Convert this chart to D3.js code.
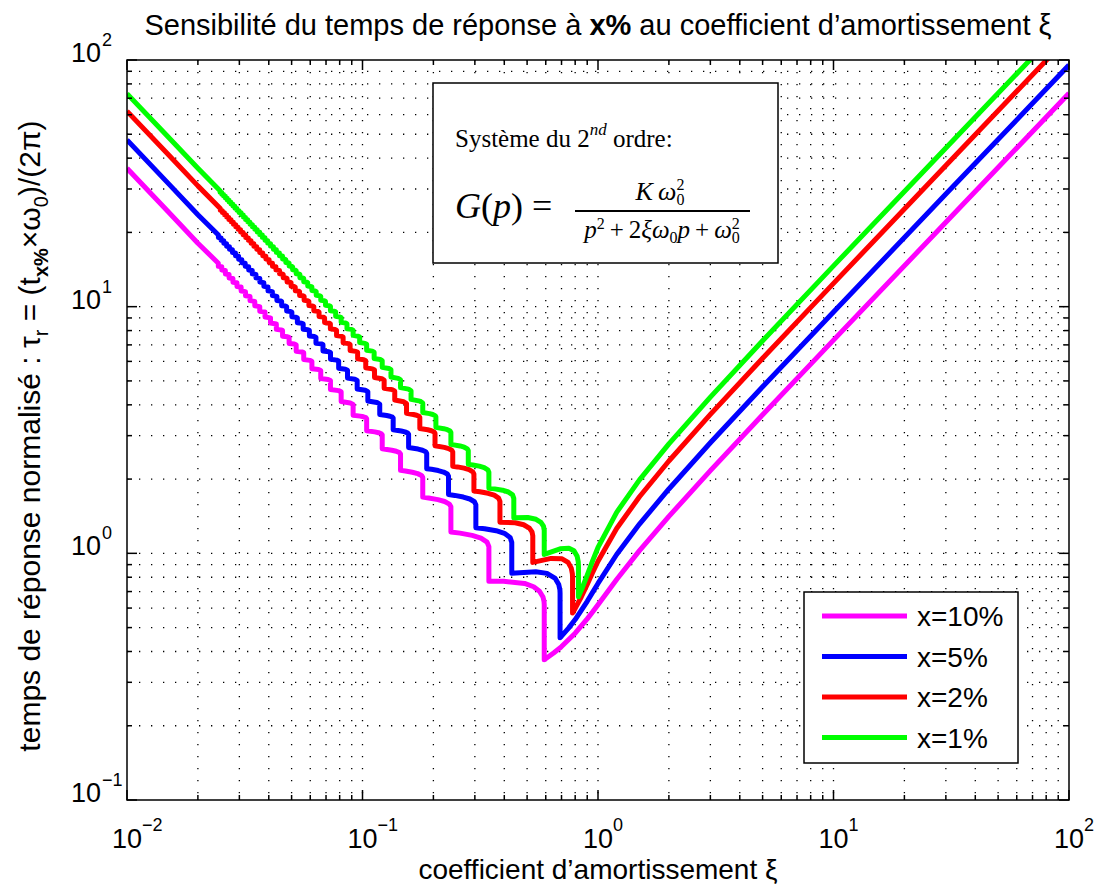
<!DOCTYPE html>
<html>
<head>
<meta charset="utf-8">
<script src="https://cdn.jsdelivr.net/npm/d3@7"></script>
<style>
  body { margin: 0; background: #fff; }
  text { font-family: "Liberation Sans", Arial, Helvetica, sans-serif; fill: #000; }
  .tex { font-family: "Liberation Serif", "DejaVu Serif", serif; }
</style>
</head>
<body>
<svg id="chart" width="1098" height="886"></svg>
<script>
// settling time tau_r vs damping xi, one array of [xi, tau] per tolerance
var xi10 = [[0.01,36.4],[0.015,24.18],[0.02,18.07],
  [0.024424,15.0045],[0.024424,14.566],[0.025266,14.5046],[0.025266,14.0672],[0.026167,14.0048],[0.026167,13.5685],
  [0.027136,13.505],[0.027136,13.0698],[0.028179,13.0052],[0.028179,12.5712],[0.029305,12.5054],[0.029305,12.0727],
  [0.030525,12.0056],[0.030525,11.5742],[0.031851,11.5058],[0.031851,11.0759],[0.033297,11.0061],[0.033297,10.5777],
  [0.034881,10.5064],[0.034881,10.0797],[0.036622,10.0067],[0.036622,9.5817],[0.038547,9.5071],[0.038547,9.0839],
  [0.040685,9.0075],[0.040685,8.5864],
  [0.04307,8.5079],[0.04307,8.0888],[0.04509,8.0487],[0.04576,8.0084],[0.04576,7.5917],[0.04804,7.5506],
  [0.0488,7.5089],[0.0488,7.095],[0.05141,7.0526],[0.05228,7.0096],[0.05228,6.5984],[0.05529,6.5547],
  [0.05629,6.5103],[0.05629,6.1022],[0.0598,6.0571],[0.06097,6.0112],[0.06097,5.6066],[0.0651,5.5599],
  [0.06648,5.5122],[0.06648,5.1118],[0.07145,5.0632],[0.0731,5.0134],[0.0731,4.6176],[0.07915,4.567],
  [0.08117,4.5149],[0.08117,4.124],[0.08873,4.0713],[0.09124,4.0168],[0.09124,3.6321],
  [0.0977,3.5999],[0.10092,3.5767],[0.10336,3.5477],[0.10414,3.5191],[0.10414,3.1417],
  [0.11272,3.1079],[0.11699,3.0835],[0.12023,3.0527],[0.12126,3.0223],[0.12126,2.6533],
  [0.13317,2.6179],[0.13911,2.5921],[0.14362,2.5593],[0.14504,2.5267],[0.14504,2.1692],
  [0.15212,2.1559],[0.16272,2.1318],[0.1715,2.1043],[0.17814,2.0689],[0.18024,2.0333],[0.18024,1.6899],
  [0.19082,1.6759],[0.20905,1.6512],[0.22326,1.6221],[0.23397,1.5837],[0.23733,1.5441],[0.23733,1.2206],
  [0.25953,1.2075],[0.29207,1.1829],[0.31844,1.1529],[0.338,1.1109],[0.34409,1.065],[0.34409,0.7703],
  [0.3977,0.7705],[0.4875,0.7549],[0.533,0.732],[0.5643,0.702],[0.584,0.665],[0.5899,0.639],
  [0.59115,0.6199],[0.59115,0.37],
  [0.65,0.3952],[0.7,0.4188],[0.8,0.4746],[0.9,0.5422],[0.95,0.5795],[1,0.6191],[1.2,0.7836],
  [1.5,1.0251],[2,1.4119],[3,2.1637],[5,3.6438],[10,7.319],[30,21.985],[100,73.29]];

var xi5 = [[0.01,47.43],[0.015,31.54],[0.02,23.59],
  [0.024443,19.5058],[0.024443,19.0674],[0.025086,19.006],[0.025086,18.5683],[0.025763,18.5061],[0.025763,18.0693],
  [0.026479,18.0063],[0.026479,17.5704],[0.027235,17.5065],[0.027235,17.0714],[0.028035,17.0067],[0.028035,16.5725],
  [0.028884,16.5069],[0.028884,16.0737],[0.029786,16.0071],[0.029786,15.5749],[0.030745,15.5073],[0.030745,15.0762],
  [0.03177,15.0076],[0.03177,14.5776],[0.032864,14.5078],[0.032864,14.079],[0.034036,14.0081],[0.034036,13.5805],
  [0.035295,13.5084],[0.035295,13.0821],[0.036651,13.0087],[0.036651,12.5838],[0.038115,12.5091],[0.038115,12.0856],
  [0.039701,12.0095],[0.039701,11.5875],[0.041424,11.5099],[0.041424,11.0895],
  [0.0433,11.0103],[0.0433,10.591],[0.04484,10.5512],[0.04536,10.5108],[0.04536,10.0933],[0.04706,10.0526],
  [0.04763,10.0114],[0.04763,9.5964],[0.0495,9.5545],[0.05013,9.512],[0.05013,9.0992],[0.05221,9.0562],
  [0.0529,9.0126],[0.0529,8.6019],[0.05523,8.558],[0.056,8.5134],[0.056,8.105],[0.05862,8.06],
  [0.05949,8.0142],[0.05949,7.6086],[0.06246,7.5623],[0.06344,7.5152],[0.06344,7.1125],[0.06682,7.0649],
  [0.06795,7.0162],[0.06795,6.617],[0.07185,6.5678],[0.07315,6.5175],[0.07315,6.1217],[0.07769,6.071],
  [0.07921,6.0189],[0.07921,5.6268],[0.08458,5.5746],[0.08637,5.5206],[0.08637,5.133],[0.0928,5.0788],
  [0.09493,5.0227],[0.09493,4.6403],[0.10275,4.5839],[0.10536,4.5252],[0.10536,4.1484],[0.11512,4.0898],
  [0.11836,4.0283],[0.11836,3.6579],[0.12668,3.6226],[0.13084,3.597],[0.13398,3.5645],
  [0.13497,3.5323],[0.13497,3.1699],[0.146,3.1332],[0.15148,3.1063],[0.15565,3.072],
  [0.15696,3.0377],[0.15696,2.6851],[0.17221,2.6469],[0.17979,2.6186],[0.18552,2.582],
  [0.18734,2.5451],[0.18734,2.2044],[0.19635,2.1906],[0.20978,2.1651],[0.22088,2.1354],[0.22926,2.0963],
  [0.23189,2.056],[0.23189,1.7307],[0.24644,1.7171],[0.26796,1.6916],[0.28558,1.6609],[0.29879,1.6189],
  [0.30293,1.574],[0.30293,1.2689],[0.33006,1.2576],[0.36924,1.2352],[0.40047,1.2055],[0.42332,1.1603],
  [0.43037,1.1079],[0.43037,0.8311],[0.5444,0.8427],[0.607,0.8294],[0.65833,0.7911],[0.68125,0.7482],
  [0.68898,0.7118],[0.69011,0.6909],[0.69011,0.4552],
  [0.7,0.4616],[0.75,0.4974],[0.8,0.539],[0.9,0.639],[0.95,0.6963],[1,0.755],[1.2,0.9892],
  [1.5,1.3139],[2,1.8236],[3,2.8066],[5,4.7358],[10,9.5199],[30,28.602],[100,95.355]];

var xi2 = [[0.01,62.01],[0.015,41.26],[0.02,30.88],
  [0.024897,25.0078],[0.024897,24.57],[0.025405,24.5079],[0.025405,24.0707],[0.025934,24.0081],[0.025934,23.5715],
  [0.026485,23.5082],[0.026485,23.0723],[0.027061,23.0084],[0.027061,22.5731],[0.027661,22.5086],[0.027661,22.074],
  [0.02829,22.0088],[0.02829,21.5749],[0.028947,21.509],[0.028947,21.0759],[0.029636,21.0092],[0.029636,20.5769],
  [0.030358,20.5095],[0.030358,20.0779],[0.031116,20.0097],[0.031116,19.579],[0.031913,19.5099],[0.031913,19.0801],
  [0.032752,19.0102],[0.032752,18.5813],[0.033636,18.5105],[0.033636,18.0825],[0.034569,18.0108],[0.034569,17.5837],
  [0.035555,17.5111],[0.035555,17.085],[0.0366,17.0114],[0.0366,16.5864],[0.037708,16.5117],[0.037708,16.0878],
  [0.038885,16.0121],[0.038885,15.5893],[0.040137,15.5125],[0.040137,15.0909],[0.041472,15.0129],[0.041472,14.5926],
  [0.042899,14.5134],[0.042899,14.0943],
  [0.04443,14.0139],[0.04443,13.5958],[0.04566,13.5553],[0.04607,13.5143],[0.04607,13.0978],[0.0474,13.0567],
  [0.04783,13.015],[0.04783,12.6001],[0.04927,12.5581],[0.04975,12.5155],[0.04975,12.1023],[0.0513,12.0596],
  [0.05182,12.0162],[0.05182,11.6047],[0.0535,11.561],[0.05406,11.5169],[0.05406,11.1071],[0.0559,11.0627],
  [0.05651,11.0176],[0.05651,10.6097],[0.05853,10.5645],[0.0592,10.5185],[0.0592,10.1126],[0.0614,10.0664],
  [0.06214,10.0194],[0.06214,9.6157],[0.06458,9.5685],[0.0654,9.5204],[0.0654,9.1192],[0.06811,9.0709],
  [0.06902,9.0215],[0.06902,8.6231],[0.07204,8.5735],[0.07305,8.5228],[0.07305,8.127],[0.07647,8.0763],
  [0.0776,8.0242],[0.0776,7.6311],[0.08145,7.5792],[0.08274,7.5258],[0.08274,7.1359],[0.08714,7.0827],
  [0.0886,7.0277],[0.0886,6.6414],[0.09367,6.5866],[0.09535,6.5298],[0.09535,6.1476],[0.10126,6.0911],
  [0.10322,6.0322],[0.10322,5.6544],[0.11017,5.5961],[0.11248,5.5351],[0.11248,5.1618],[0.1208,5.1019],
  [0.12357,5.0386],[0.12357,4.6706],[0.13369,4.6088],[0.13705,4.5429],[0.13705,4.1815],[0.14964,4.1174],
  [0.15381,4.0482],[0.15381,3.6944],[0.16451,3.6562],[0.16983,3.6279],[0.17387,3.5916],
  [0.17514,3.555],[0.17514,3.2095],[0.18923,3.1703],[0.19623,3.141],[0.20154,3.1028],
  [0.20321,3.0639],[0.20321,2.729],[0.22257,2.6892],[0.23215,2.6587],[0.23939,2.6183],
  [0.24167,2.5764],[0.24167,2.2543],[0.25299,2.2406],[0.26979,2.2147],[0.28361,2.1834],[0.29398,2.1405],
  [0.29724,2.0947],[0.29724,1.7881],[0.31514,1.7759],[0.34139,1.7518],[0.36265,1.7208],[0.37844,1.6754],
  [0.38337,1.6241],[0.38337,1.3377],[0.44513,1.33],[0.48327,1.3059],[0.51114,1.2653],[0.52466,1.2214],
  [0.52855,1.178],[0.52855,0.9187],[0.6325,0.9538],[0.70387,0.9504],[0.74647,0.9188],[0.77005,0.871],
  [0.77837,0.8269],[0.77971,0.7985],[0.77971,0.5734],
  [0.8,0.5978],[0.85,0.6668],[0.9,0.7482],[0.95,0.8375],[1,0.9285],[1.2,1.2609],[1.5,1.6958],
  [2,2.3679],[3,3.6566],[5,6.1795],[10,12.429],[30,37.35],[100,124.52]];

var xi1 = [[0.01,73.04],[0.015,48.61],[0.02,36.4],
  [0.024837,29.5091],[0.024837,29.0712],[0.025265,29.0093],[0.025265,28.5719],[0.025709,28.5094],[0.025709,28.0726],
  [0.026167,28.0096],[0.026167,27.5733],[0.026643,27.5098],[0.026643,27.074],[0.027136,27.0099],[0.027136,26.5747],
  [0.027647,26.5101],[0.027647,26.0755],[0.028179,26.0103],[0.028179,25.5763],[0.02873,25.5105],[0.02873,25.0772],
  [0.029304,25.0108],[0.029304,24.578],[0.029903,24.511],[0.029903,24.0789],[0.030525,24.0112],[0.030525,23.5798],
  [0.031174,23.5114],[0.031174,23.0808],[0.03185,23.0117],[0.03185,22.5818],[0.032558,22.5119],[0.032558,22.0828],
  [0.033297,22.0122],[0.033297,21.5838],[0.03407,21.5125],[0.03407,21.0849],[0.03488,21.0128],[0.03488,20.586],
  [0.03573,20.5131],[0.03573,20.0872],[0.036622,20.0134],[0.036622,19.5884],[0.037559,19.5138],[0.037559,19.0897],
  [0.038546,19.0141],[0.038546,18.591],[0.039587,18.5145],[0.039587,18.0924],[0.040684,18.0149],[0.040684,17.5938],
  [0.041845,17.5153],[0.041845,17.0953],[0.043074,17.0158],[0.043074,16.5969],
  [0.04438,16.5163],[0.04438,16.0982],[0.04541,16.0577],[0.04576,16.0168],[0.04576,15.6001],[0.04687,15.559],
  [0.04724,15.5174],[0.04724,15.102],[0.04841,15.0602],[0.0488,15.0179],[0.0488,14.6039],[0.05007,14.5616],
  [0.05049,14.5186],[0.05049,14.106],[0.05183,14.063],[0.05228,14.0192],[0.05228,13.608],[0.05373,13.5643],
  [0.05421,13.5198],[0.05421,13.1101],[0.05577,13.0658],[0.05629,13.0207],[0.05629,12.6126],[0.05797,12.5675],
  [0.05853,12.5215],[0.05853,12.1151],[0.06036,12.0692],[0.06097,12.0223],[0.06097,11.6178],[0.06294,11.5711],
  [0.0636,11.5233],[0.0636,11.1208],[0.06575,11.0731],[0.06648,11.0244],[0.06648,10.624],[0.06885,10.5754],
  [0.06963,10.5255],[0.06963,10.1276],[0.07223,10.0778],[0.0731,10.0268],[0.0731,9.631],[0.07597,9.5803],
  [0.07692,9.5282],[0.07692,9.1348],[0.08011,9.083],[0.08117,9.0298],[0.08117,8.6389],[0.08472,8.5861],
  [0.08591,8.5315],[0.08591,8.1436],[0.0899,8.0895],[0.09124,8.0335],[0.09124,7.6488],[0.09576,7.5934],
  [0.09726,7.5357],[0.09726,7.1547],[0.10242,7.0978],[0.10414,7.0382],[0.10414,6.6608],[0.11008,6.6025],
  [0.11205,6.5412],[0.11205,6.1677],[0.11896,6.1078],[0.12126,6.0446],[0.12126,5.6756],[0.12939,5.6141],
  [0.13209,5.5486],[0.13209,5.1848],[0.14181,5.1215],[0.14504,5.0534],[0.14504,4.6959],[0.15684,4.6304],
  [0.16075,4.5593],[0.16075,4.2082],[0.17539,4.141],[0.18024,4.0666],[0.18024,3.7232],
  [0.19265,3.6837],[0.19882,3.6541],[0.20349,3.6154],[0.20496,3.576],[0.20496,3.2417],
  [0.22124,3.2016],[0.22931,3.1708],[0.23541,3.1304],[0.23733,3.0882],[0.23733,2.7647],
  [0.25953,2.7247],[0.27049,2.6933],[0.27874,2.6506],[0.28133,2.6052],[0.28133,2.2945],
  [0.2942,2.2815],[0.31322,2.2563],[0.32879,2.2246],[0.34044,2.1797],[0.34409,2.1301],[0.34409,1.8354],
  [0.36407,1.825],[0.39313,1.8031],[0.41646,1.7727],[0.43367,1.7254],[0.43901,1.6695],[0.43901,1.3943],
  [0.50327,1.3967],[0.5457,1.3738],[0.57236,1.336],[0.5866,1.2898],[0.59115,1.2399],[0.59115,0.9899],
  [0.69061,1.0435],[0.75256,1.0493],[0.79064,1.0246],[0.81549,0.9739],[0.82427,0.9253],
  [0.82608,0.8872],[0.82608,0.667],
  [0.85,0.7101],[0.9,0.8157],[0.95,0.9363],[1,1.0565],[1.2,1.4664],[1.5,1.9845],[2,2.7796],
  [3,4.2996],[5,7.2715],[10,14.63],[30,43.967],[100,146.58]];

var seriesNames = ["x=10%", "x=5%", "x=2%", "x=1%"];
var seriesColors = ["#ff00ff", "#0000ff", "#ff0000", "#00ff00"];
var seriesData = [xi10, xi5, xi2, xi1];
var decadesX = [0.01, 0.1, 1, 10, 100];
var decadesY = [0.1, 1, 10, 100];

var svg = d3.select("#chart");
var plotL = 127, plotR = 1069, plotT = 60, plotB = 800;

var x = d3.scaleLog().domain([0.01, 100]).range([plotL, plotR]);
var y = d3.scaleLog().domain([0.1, 100]).range([plotB, plotT]);

svg.append("rect").attr("x", 0).attr("y", 0).attr("width", 1098).attr("height", 886).attr("fill", "#fff");

// dotted grid, major + minor
var grid = svg.append("g").attr("stroke", "#000").attr("stroke-width", 1.3).attr("stroke-dasharray", "1.3,10.7");
x.ticks().filter(function(v) { return v > 0.0100001 && v < 99.999; }).forEach(function(v) {
  grid.append("line").attr("x1", x(v)).attr("x2", x(v)).attr("y1", plotT).attr("y2", plotB);
});
y.ticks().filter(function(v) { return v > 0.100001 && v < 99.999; }).forEach(function(v) {
  grid.append("line").attr("x1", plotL).attr("x2", plotR).attr("y1", y(v)).attr("y2", y(v));
});

// curves
svg.append("clipPath").attr("id", "clip").append("rect")
  .attr("x", plotL).attr("y", plotT).attr("width", plotR - plotL).attr("height", plotB - plotT);

var line = d3.line().x(function(d) { return x(d[0]); }).y(function(d) { return y(d[1]); });
svg.append("g").attr("clip-path", "url(#clip)")
  .selectAll("path").data(seriesData).enter().append("path")
  .attr("d", line)
  .attr("fill", "none")
  .attr("stroke", function(d, i) { return seriesColors[i]; })
  .attr("stroke-width", 5)
  .attr("stroke-linejoin", "round");

// box + inward ticks on all sides
var axes = svg.append("g").attr("stroke", "#000").attr("stroke-width", 1.5);
function isMajor(v) { return Math.abs(Math.log10(v) - Math.round(Math.log10(v))) < 1e-6; }
x.ticks().forEach(function(v) {
  var len = isMajor(v) ? 10 : 5;
  axes.append("line").attr("x1", x(v)).attr("x2", x(v)).attr("y1", plotB).attr("y2", plotB - len);
  axes.append("line").attr("x1", x(v)).attr("x2", x(v)).attr("y1", plotT).attr("y2", plotT + len);
});
y.ticks().forEach(function(v) {
  var len = isMajor(v) ? 10 : 5;
  axes.append("line").attr("x1", plotL).attr("x2", plotL + len).attr("y1", y(v)).attr("y2", y(v));
  axes.append("line").attr("x1", plotR).attr("x2", plotR - len).attr("y1", y(v)).attr("y2", y(v));
});
axes.append("rect").attr("x", plotL).attr("y", plotT).attr("width", plotR - plotL).attr("height", plotB - plotT)
  .attr("fill", "none");

// tick labels 10^n
function expText(v) { var e = Math.round(Math.log10(v)); return e < 0 ? "\u2212" + (-e) : "" + e; }
decadesX.forEach(function(v) {
  svg.append("text").attr("x", x(v)).attr("y", 848).attr("text-anchor", "middle")
    .style("font-size", "27px").text("10");
  svg.append("text").attr("x", x(v) + 15).attr("y", 831)
    .style("font-size", "18px").text(expText(v));
});
decadesY.forEach(function(v) {
  svg.append("text").attr("x", 101).attr("y", y(v) + 2).attr("text-anchor", "end")
    .style("font-size", "27px").text("10");
  svg.append("text").attr("x", 102).attr("y", y(v) - 14)
    .style("font-size", "18px").text(expText(v));
});

// title
var title = svg.append("text").attr("x", (plotL + plotR) / 2).attr("y", 35).attr("text-anchor", "middle")
  .style("font-size", "29px");
title.append("tspan").text("Sensibilit\u00e9 du temps de r\u00e9ponse \u00e0 ");
title.append("tspan").style("font-weight", "bold").text("x%");
title.append("tspan").text(" au coefficient d\u2019amortissement \u03be");

// x label
svg.append("text").attr("x", (plotL + plotR) / 2).attr("y", 879).attr("text-anchor", "middle")
  .style("font-size", "28px").text("coefficient d\u2019amortissement \u03be");

// y label
var yl = svg.append("text").attr("transform", "translate(40,436) rotate(-90)").attr("text-anchor", "middle")
  .style("font-size", "30px");
yl.append("tspan").text("temps de r\u00e9ponse normalis\u00e9 : \u03c4");
yl.append("tspan").attr("dy", 8).style("font-size", "20px").text("r");
yl.append("tspan").attr("dy", -8).text(" = (t");
yl.append("tspan").attr("dy", 8).style("font-size", "20px").style("font-weight", "bold").text("x%");
yl.append("tspan").attr("dy", -8).text("\u00d7\u03c9");
yl.append("tspan").attr("dy", 8).style("font-size", "20px").text("0");
yl.append("tspan").attr("dy", -8).text(")/(2\u03c0)");

// annotation box
var ann = svg.append("g");
ann.append("rect").attr("x", 433).attr("y", 83).attr("width", 345).attr("height", 180)
  .attr("fill", "#fff").attr("stroke", "#000").attr("stroke-width", 1.5);
var l1 = ann.append("text").attr("class", "tex").attr("x", 455).attr("y", 147).style("font-size", "25px");
l1.append("tspan").text("Syst\u00e8me du 2");
l1.append("tspan").attr("dy", -12).style("font-size", "17px").style("font-style", "italic").text("nd");
l1.append("tspan").attr("dy", 12).text(" ordre:");

var g1 = ann.append("text").attr("class", "tex").attr("x", 455).attr("y", 218).style("font-size", "36px");
g1.append("tspan").style("font-style", "italic").text("G");
g1.append("tspan").text("(");
g1.append("tspan").style("font-style", "italic").text("p");
g1.append("tspan").text(") =");

var num = ann.append("text").attr("class", "tex").attr("x", 660).attr("y", 200).attr("text-anchor", "middle")
  .style("font-size", "26px").style("font-style", "italic");
num.append("tspan").text("K\u2009\u03c9");
num.append("tspan").attr("dy", -10).style("font-size", "16px").style("font-style", "normal").text("2");
num.append("tspan").attr("dx", -8).attr("dy", 15).style("font-size", "16px").style("font-style", "normal").text("0");
ann.append("line").attr("x1", 575).attr("x2", 750).attr("y1", 211).attr("y2", 211)
  .attr("stroke", "#000").attr("stroke-width", 2);
var den = ann.append("text").attr("class", "tex").attr("x", 662).attr("y", 238).attr("text-anchor", "middle")
  .style("font-size", "25px");
den.append("tspan").style("font-style", "italic").text("p");
den.append("tspan").attr("dy", -9).style("font-size", "16px").text("2");
den.append("tspan").attr("dy", 9).text("\u2009+\u20092");
den.append("tspan").style("font-style", "italic").text("\u03be\u03c9");
den.append("tspan").attr("dy", 5).style("font-size", "16px").text("0");
den.append("tspan").attr("dy", -5).style("font-style", "italic").text("p");
den.append("tspan").text("\u2009+\u2009");
den.append("tspan").style("font-style", "italic").text("\u03c9");
den.append("tspan").attr("dy", -9).style("font-size", "16px").text("2");
den.append("tspan").attr("dx", -8).attr("dy", 14).style("font-size", "16px").text("0");

// legend
var leg = svg.append("g");
leg.append("rect").attr("x", 804).attr("y", 592).attr("width", 214).attr("height", 171)
  .attr("fill", "#fff").attr("stroke", "#000").attr("stroke-width", 1.5);
seriesNames.forEach(function(name, i) {
  var ly = 616 + i * 40.5;
  leg.append("line").attr("x1", 822).attr("x2", 907).attr("y1", ly).attr("y2", ly)
    .attr("stroke", seriesColors[i]).attr("stroke-width", 5);
  leg.append("text").attr("x", 917).attr("y", ly + 10).style("font-size", "28px").text(name);
});
</script>
</body>
</html>
